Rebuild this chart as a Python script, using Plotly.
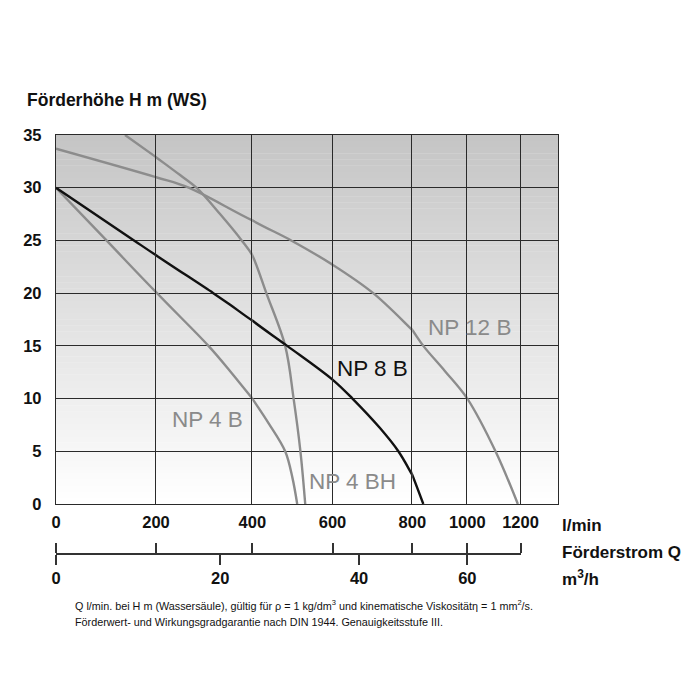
import plotly.graph_objects as go

# ---------------- data ----------------
# Förderstrom Q in l/min, Förderhöhe H in m (WS)
q_ticks = [0, 200, 400, 600, 800, 1000, 1200]
q_tick_labels = ["0", "200", "400", "600", "800", "1000", "1200"]
q_axis_end = 1340
h_ticks = [0, 5, 10, 15, 20, 25, 30, 35]
h_tick_labels = ["0", "5", "10", "15", "20", "25", "30", "35"]
m3h_ticks = [0, 20, 40, 60]
m3h_tick_labels = ["0", "20", "40", "60"]
lmin_per_m3h = 1000.0 / 60.0

np4b_q = [0, 101, 200, 309, 354, 400, 440, 482, 500, 512]
np4b_h = [30, 25, 20.1, 15, 12.6, 10, 7.7, 5, 2.5, 0]

np4bh_q = [138, 200, 250, 284, 333, 378, 400, 435, 482, 503, 520, 532]
np4bh_h = [35, 32.9, 31.2, 30, 27.5, 25, 23.6, 20, 15, 10, 5, 0]

np8b_q = [0, 156, 200, 319, 354, 400, 487, 600, 650, 719, 765, 800, 840]
np8b_h = [30, 25, 23.6, 20, 18.9, 17.4, 15, 11.8, 10, 7.2, 5, 2.75, 0]

np12b_q = [0, 200, 268, 400, 497, 600, 702, 800, 840, 919, 1000, 1106, 1190]
np12b_h = [33.7, 31.0, 30, 26.9, 25, 22.7, 20, 16.5, 15, 12.6, 10, 5, 0]

series = [
    ("NP 4 B", np4b_q, np4b_h, "#8c8c8c"),
    ("NP 4 BH", np4bh_q, np4bh_h, "#8c8c8c"),
    ("NP 12 B", np12b_q, np12b_h, "#8c8c8c"),
    ("NP 8 B", np8b_q, np8b_h, "#111111"),
]

# ---------------- layout geometry (pixels of the 700x700 page) ----------------
W, H = 700, 700
PL, PR, PT, PB = 56, 142, 135, 60          # margins
PLOT_BOTTOM_PX = 504                       # y pixel of H = 0
BAR_PX = 554                               # y pixel of the m3/h scale bar
# pixel x of each Q gridline in the original drawing (uneven scale)
seg_edges_px = [56, 156, 252.3, 332.5, 412.3, 467.3, 520.5, W - PR]

plot_w = W - PL - PR
plot_h = H - PT - PB


def px_x(px):
    return (px - PL) / plot_w


def px_y(py):
    return (H - PB - py) / plot_h


y_dom = [px_y(PLOT_BOTTOM_PX), 1.0]
bar_pos = px_y(BAR_PX)
q_edges = q_ticks + [q_axis_end]
nseg = len(q_edges) - 1

GRID = "#2a2a2a"
SANS = "Liberation Sans, Arial, sans-serif"
tick_font = dict(family=SANS, size=16.5, color="#111111", weight="bold")


def xname(n):
    return "x" if n == 1 else f"x{n}"


def yname(n):
    return "y" if n == 1 else f"y{n}"


def xkey(n):
    return "xaxis" if n == 1 else f"xaxis{n}"


def ykey(n):
    return "yaxis" if n == 1 else f"yaxis{n}"


fig = go.Figure()
layout_axes = {}

for i in range(nseg):
    n = i + 1
    a, b = q_edges[i], q_edges[i + 1]
    dom = [px_x(seg_edges_px[i]), px_x(seg_edges_px[i + 1])]
    layout_axes[xkey(n)] = dict(
        domain=dom, range=[a, b], anchor=yname(n),
        showline=True, mirror=True, linecolor=GRID, linewidth=1.3,
        showgrid=False, zeroline=False, ticks="",
        tickmode="array", tickvals=[a], ticktext=[q_tick_labels[i]],
        tickfont=tick_font, ticklabelstandoff=3, fixedrange=True,
    )
    layout_axes[ykey(n)] = dict(
        domain=y_dom, range=[0, 35], anchor=xname(n),
        showline=True, mirror=(n == nseg), linecolor=GRID, linewidth=1.3,
        showgrid=True, gridcolor=GRID, gridwidth=1.1, zeroline=False,
        ticks="", tickmode="array", tickvals=h_ticks, ticktext=h_tick_labels,
        showticklabels=(n == 1), tickfont=tick_font, ticklabelstandoff=10,
        fixedrange=True,
    )
    for name, qs, hs, col in series:
        fig.add_trace(go.Scatter(
            x=qs, y=hs, mode="lines", name=name, showlegend=False,
            xaxis=xname(n), yaxis=yname(n), hoverinfo="skip",
            line=dict(color=col, width=2.4, shape="spline", smoothing=1.0),
        ))

# m3/h scale bar below the chart (covers 0 .. 1200 l/min)
bar_segs = nseg - 1
for i in range(bar_segs):
    a, b = q_edges[i], q_edges[i + 1]
    dom = [px_x(seg_edges_px[i]), px_x(seg_edges_px[i + 1])]
    n_up = nseg + 1 + i
    n_dn = nseg + 1 + bar_segs + i
    up_vals = [a] + ([b] if i == bar_segs - 1 else [])
    layout_axes[xkey(n_up)] = dict(
        domain=dom, range=[a, b], anchor="free", position=bar_pos,
        overlaying=xname(i + 1), side="top",
        showline=True, linecolor="#333333", linewidth=1.5,
        showgrid=False, zeroline=False, ticks="outside", ticklen=10,
        tickwidth=1.5, tickcolor="#333333", tickmode="array",
        tickvals=up_vals, showticklabels=False, fixedrange=True,
    )
    dn_vals, dn_text = [], []
    for v, t in zip(m3h_ticks, m3h_tick_labels):
        q = v * lmin_per_m3h
        if a <= q + 1e-9 < b:
            dn_vals.append(q)
            dn_text.append(t)
    layout_axes[xkey(n_dn)] = dict(
        domain=dom, range=[a, b], anchor="free", position=bar_pos,
        overlaying=xname(i + 1), side="bottom",
        showline=False, showgrid=False, zeroline=False,
        ticks="outside" if dn_vals else "", ticklen=10, tickwidth=1.5,
        tickcolor="#333333", tickmode="array", tickvals=dn_vals, ticktext=dn_text,
        showticklabels=len(dn_vals) > 0,
        tickfont=tick_font, ticklabelstandoff=-1, fixedrange=True,
    )
    for n_ax in (n_up, n_dn):
        fig.add_trace(go.Scatter(x=[], y=[], mode="lines", showlegend=False,
                                 hoverinfo="skip", xaxis=xname(n_ax),
                                 yaxis=yname(i + 1)))

# vertical grey gradient behind the grid
shapes = []
nb = 60
for k in range(nb):
    t = (k + 0.5) / nb
    c = int(round(255 - 58 * t))
    y0 = y_dom[0] + (y_dom[1] - y_dom[0]) * k / nb
    y1 = y_dom[0] + (y_dom[1] - y_dom[0]) * (k + 1) / nb
    shapes.append(dict(type="rect", xref="paper", yref="paper", x0=0, x1=1,
                       y0=y0, y1=y1 + 0.0005, layer="below", line=dict(width=0),
                       fillcolor=f"rgb({c},{c},{c})"))

label_font = dict(family=SANS, size=22.5)
side_font = dict(family=SANS, size=17, color="#111111", weight="bold")
note_font = dict(family=SANS, size=10.8, color="#111111")
annotations = [
    dict(text="Förderhöhe H m (WS)", xref="paper", yref="paper",
         x=px_x(25), y=px_y(100), xanchor="left", yanchor="middle",
         showarrow=False, font=dict(family=SANS, size=17.5, color="#111111", weight="bold")),
    dict(text="l/min", xref="paper", yref="paper", x=px_x(560), y=px_y(525),
         xanchor="left", yanchor="middle", showarrow=False, font=side_font),
    dict(text="Förderstrom Q", xref="paper", yref="paper", x=px_x(560), y=px_y(552),
         xanchor="left", yanchor="middle", showarrow=False, font=side_font),
    dict(text="m<sup>3</sup>/h", xref="paper", yref="paper", x=px_x(560), y=px_y(578),
         xanchor="left", yanchor="middle", showarrow=False, font=side_font),
    dict(text="Q l/min. bei H m (Wassersäule), gültig für ρ = 1 kg/dm<sup>3</sup> und kinematische Viskositätη = 1 mm<sup>2</sup>/s.",
         xref="paper", yref="paper", x=px_x(73), y=px_y(605), xanchor="left", yanchor="middle",
         showarrow=False, font=note_font),
    dict(text="Förderwert- und Wirkungsgradgarantie nach DIN 1944. Genauigkeitsstufe III.",
         xref="paper", yref="paper", x=px_x(73), y=px_y(622), xanchor="left", yanchor="middle",
         showarrow=False, font=note_font),
    # curve labels
    dict(text="NP 12 B", xref="x6", yref="y6", x=1010, y=16.7, showarrow=False,
         xanchor="center", yanchor="middle", font=dict(label_font, color="#8a8a8a")),
    dict(text="NP 8 B", xref="x4", yref="y4", x=700, y=12.85, showarrow=False,
         xanchor="center", yanchor="middle", font=dict(label_font, color="#111111")),
    dict(text="NP 4 B", xref="x2", yref="y2", x=306, y=7.97, showarrow=False,
         xanchor="center", yanchor="middle", font=dict(label_font, color="#8a8a8a")),
    dict(text="NP 4 BH", xref="x4", yref="y4", x=651, y=2.18, showarrow=False,
         xanchor="center", yanchor="middle", font=dict(label_font, color="#8a8a8a")),
]

fig.update_layout(
    width=W, height=H,
    margin=dict(l=PL, r=PR, t=PT, b=PB, pad=0),
    paper_bgcolor="white", plot_bgcolor="rgba(0,0,0,0)",
    showlegend=False, hovermode=False,
    shapes=shapes, annotations=annotations,
    **layout_axes,
)

fig.write_html(
    "out.html",
    config={"displayModeBar": False},
    post_script="document.body.style.margin='0';document.body.style.overflow='hidden';",
)
